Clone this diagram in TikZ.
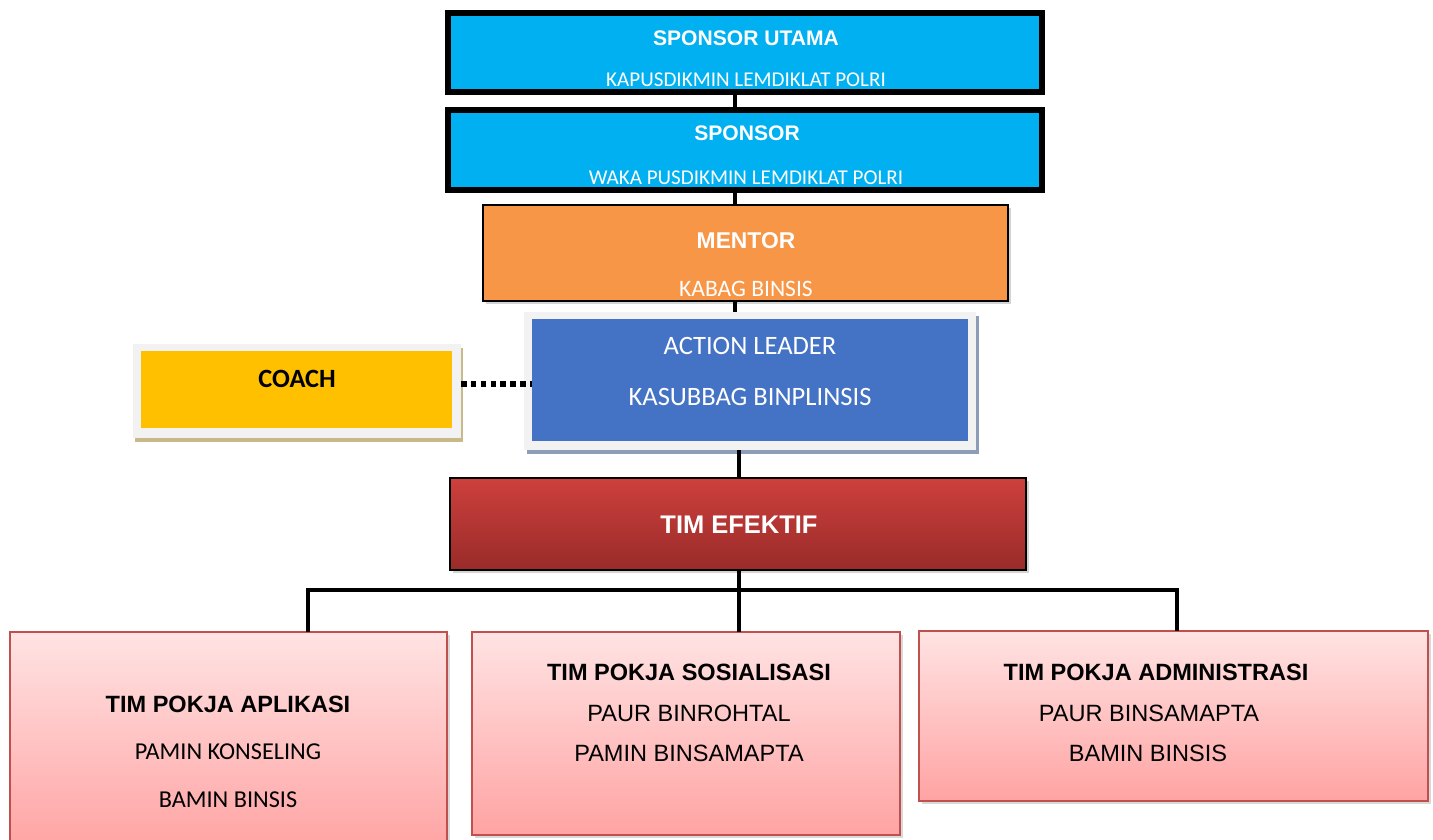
\documentclass[tikz,border=0pt]{standalone}
\usepackage{fontspec}
\setmainfont{Liberation Sans}
\newfontfamily\calibrifont{Carlito}
\usetikzlibrary{positioning,fit,shadows}
\definecolor{sponsorblue}{HTML}{00B0F0}
\definecolor{mentororange}{HTML}{F79646}
\definecolor{leaderblue}{HTML}{4472C4}
\definecolor{coachyellow}{HTML}{FFC000}
\definecolor{bingkai}{HTML}{F2F2F2}
\definecolor{leadershadow}{HTML}{8C9DB8}
\definecolor{coachshadow}{HTML}{C8B88A}
\definecolor{efektiftop}{HTML}{CD403D}
\definecolor{efektifbot}{HTML}{992B29}
\definecolor{pokjatop}{HTML}{FFE3E3}
\definecolor{pokjabot}{HTML}{FFA3A3}
\definecolor{pokjaline}{HTML}{C0504D}

\begin{document}
\begin{tikzpicture}[x=0.02cm, y=-0.02cm]
    \tikzstyle{kotak}=[inner sep=0, outer sep=0]
    \tikzstyle{sponsor}=[kotak, draw=black, line width=3.4pt, fill=sponsorblue]
    \tikzstyle{mentor}=[kotak, draw=black, line width=1.1pt, fill=mentororange,
      drop shadow={shadow xshift=1.5pt, shadow yshift=-1.5pt, opacity=.35}]
    \tikzstyle{bingkai}=[kotak, fill=bingkai]
    \tikzstyle{efektif}=[kotak, draw=black, line width=1pt,
      top color=efektiftop, bottom color=efektifbot,
      drop shadow={shadow xshift=1.5pt, shadow yshift=-1.5pt, opacity=.35}]
    \tikzstyle{pokja}=[kotak, draw=pokjaline, line width=1.2pt,
      top color=pokjatop, bottom color=pokjabot,
      drop shadow={shadow xshift=1.5pt, shadow yshift=-1.5pt, opacity=.3}]
    \tikzstyle{garis}=[line width=2.8pt]
    \tikzstyle{titik}=[line width=3.4pt, dash pattern=on 3.2pt off 2.4pt]
    \tikzstyle{judul}=[font=\bfseries\fontsize{12}{14}\selectfont, text=white]
    \tikzstyle{isi}=[font=\calibrifont\fontsize{12}{14}\selectfont, text=white]
    \tikzstyle{pokjajudul}=[font=\bfseries\fontsize{13.4}{16}\selectfont]
    \tikzstyle{pokjaisi}=[font=\fontsize{13.4}{16}\selectfont]
    \tikzstyle{pokjaisical}=[font=\calibrifont\fontsize{13.8}{16}\selectfont]

    \useasboundingbox (0,0) rectangle (1433,839);

    % sponsor
    \node[sponsor, fit={(448,13) (1042,92)}] (su) {};
    \node[sponsor, fit={(448,110) (1042,190)}] (sp) {};
    \path (746,38)  node(sutitle) [judul] {SPONSOR UTAMA}
          (746,80)  node(suisi) [isi] {KAPUSDIKMIN LEMDIKLAT POLRI}
          (747,133) node(sptitle) [judul] {SPONSOR}
          (746,178) node(spisi) [isi] {WAKA PUSDIKMIN LEMDIKLAT POLRI};

    % mentor
    \node[mentor, fit={(483,205) (1008,301)}] (mentor) {};
    \path (746,241) node(mentortitle) [judul, font=\bfseries\fontsize{13}{15}\selectfont] {MENTOR}
          (746,289) node(mentorisi) [isi, font=\calibrifont\fontsize{13.4}{15}\selectfont] {KABAG BINSIS};

    % action leader
    \node[bingkai, fit={(524,312) (976,450)},
      drop shadow={shadow xshift=1.7pt, shadow yshift=-2.5pt, fill=leadershadow, opacity=1}] (leaderframe) {};
    \node[kotak, fill=leaderblue, fit={(532,319) (968,441)}] (leader) {};
    \path (750,346) node(leadertitle) [isi, font=\calibrifont\fontsize{15.1}{17}\selectfont] {ACTION LEADER}
          (750,397) node(leaderisi) [isi, font=\calibrifont\fontsize{15.1}{17}\selectfont] {KASUBBAG BINPLINSIS};

    % coach
    \node[bingkai, fit={(133,344) (461,438)},
      drop shadow={shadow xshift=1.2pt, shadow yshift=-2.2pt, fill=coachshadow, opacity=1}] (coachframe) {};
    \node[kotak, fill=coachyellow, fit={(141,351) (452,428)}] (coach) {};
    \path (297,379) node(coachtitle) [font=\calibrifont\bfseries\fontsize{15}{17}\selectfont] {COACH};

    % tim efektif
    \node[efektif, fit={(450,478) (1026,570)}] (eff) {};
    \path (739,525) node(efftitle) [judul, font=\bfseries\fontsize{14.5}{17}\selectfont] {TIM EFEKTIF};

    % tim pokja
    \node[pokja, fit={(10,632) (447,850)}] (p1) {};
    \node[pokja, fit={(472,632) (900,835)}] (p2) {};
    \node[pokja, fit={(919,631) (1428,801)}] (p3) {};
    \path (228,704)  node(p1title) [pokjajudul] {TIM POKJA APLIKASI}
          (228,752)  node(p1a) [pokjaisical] {PAMIN KONSELING}
          (228,800)  node(p1b) [pokjaisical] {BAMIN BINSIS}
          (689,672)  node(p2title) [pokjajudul] {TIM POKJA SOSIALISASI}
          (689,713)  node(p2a) [pokjaisi] {PAUR BINROHTAL}
          (689,753)  node(p2b) [pokjaisi] {PAMIN BINSAMAPTA}
          (1156,672) node(p3title) [pokjajudul] {TIM POKJA ADMINISTRASI}
          (1149,713) node(p3a) [pokjaisi] {PAUR BINSAMAPTA}
          (1148,753) node(p3b) [pokjaisi] {BAMIN BINSIS};

    % garis
    \coordinate (spineatas) at (735,0);
    \coordinate (spinebawah) at (739,0);
    \coordinate (bar) at (0,590);
    \coordinate (d1) at (308,590);
    \coordinate (d3) at (1177,590);
    \coordinate (coachline) at (0,384);
    \draw[garis] (su.south -| spineatas) -- (sp.north -| spineatas);
    \draw[garis] (sp.south -| spineatas) -- (mentor.north -| spineatas);
    \draw[garis] (mentor.south -| spineatas) -- (leaderframe.north -| spineatas);
    \draw[garis] (leaderframe.south -| spinebawah) -- (eff.north -| spinebawah);
    \draw[garis] (eff.south -| spinebawah) -- (spinebawah |- p2.north);
    \draw[garis] (d1 |- p1.north) -- (d1) -- (d3) -- (d3 |- p3.north);
    \draw[titik] (coachframe.east |- coachline) -- (leader.west |- coachline);
\end{tikzpicture}
\end{document}
